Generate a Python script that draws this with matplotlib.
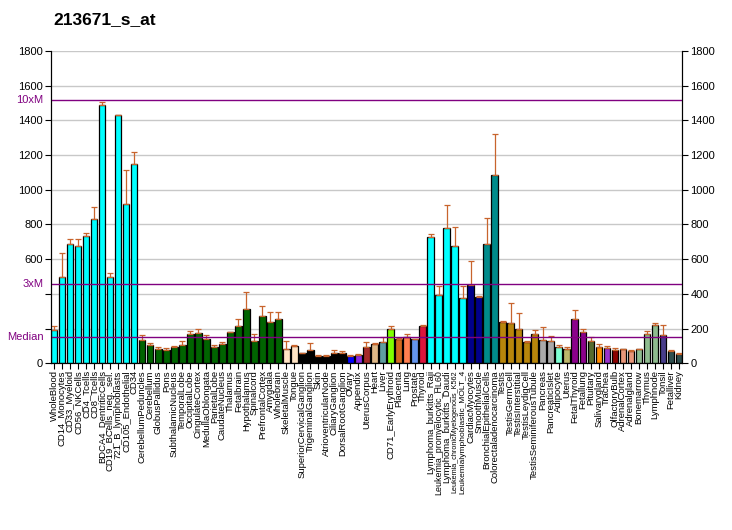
import matplotlib
matplotlib.use("Agg")
import matplotlib.pyplot as plt
import numpy as np

# ------------------------------------------
# DATA
# ------------------------------------------

tissues = [
    "WholeBlood", "CD14_Monocytes", "CD33_Myeloid", "CD56_NKCells", "CD4_Tcells",
    "CD8_Tcells", "BDCA4_DentriticCells", "CD19_BCells_neg._sel.", "721_B_lymphoblasts",
    "CD105_Endothelial", "CD34", "CerebellumPeduncles", "Cerebellum", "GlobusPallidus",
    "Pons", "SubthalamicNucleus", "TemporalLobe", "OccipitalLobe", "CingulateCortex",
    "MedullaOblongata", "ParietalLobe", "CaudateNucleus", "Thalamus", "Fetalbrain",
    "Hypothalamus", "Spinalcord", "PrefrontalCortex", "Amygdala", "Wholebrain",
    "SkeletalMuscle", "Tongue", "SuperiorCervicalGanglion", "TrigeminalGanglion", "Skin",
    "AtrioventricularNode", "CiliaryGanglion", "DorsalRootGanglion", "Ovary", "Appendix",
    "UterusCorpus", "Heart", "Liver", "CD71_EarlyErythroid", "Placenta", "Lung",
    "Prostate", "Thyroid", "Lymphoma_burkitts_Raji", "Leukemia_promyelocytic_HL60",
    "Lymphoma_burkitts_Daudi", "Leukemia_chronicMyelogenous_K562",
    "Leukemialymphoblastic_MOLT_4", "CardiacMyocytes", "SmoothMuscle",
    "BronchialEpithelialCells", "Colorectaladenocarcinoma", "Testis", "TestisGermCell",
    "TestisInterstitial", "TestisLeydigCell", "TestisSeminiferousTubule", "Pancreas",
    "PancreaticIslet", "Adipocyte", "Uterus", "FetalThyroid", "Fetallung", "Pituitary",
    "Salivarygland", "Trachea", "OlfactoryBulb", "AdrenalCortex", "Adrenalgland",
    "Bonemarrow", "Thymus", "Lymphnode", "Tonsil", "Fetalliver", "Kidney",
]

values = [
    192, 495, 685, 674, 731, 829, 1486, 495, 1429, 916, 1146,
    133, 104, 81, 75, 93, 104, 167, 173, 138, 93, 110, 179, 213, 311, 127, 271, 236, 253,
    81, 98, 58, 75, 42, 42, 58, 58, 40, 46, 93, 110, 121, 196, 138, 150, 138, 213,
    726, 392, 778, 674, 375, 449, 380, 685, 1083,
    236, 230, 200, 121, 167, 133, 127, 93, 81, 253, 179, 127, 93, 87, 75, 81, 69, 81,
    167, 219, 161, 69, 52,
]

err_top = [
    213, 634, 714, 714, 749, 899, 1504, 518, 1429, 1112, 1216,
    161, 115, 93, 87, 98, 127, 184, 196, 161, 104, 121, 179, 253, 409, 167, 328, 294, 294,
    127, 104, 58, 115, 45, 45, 75, 69, 45, 52, 121, 115, 150, 213, 144, 167, 138, 219,
    743, 444, 910, 784, 444, 588, 386, 835, 1319,
    243, 345, 288, 127, 190, 207, 156, 104, 93, 305, 200, 150, 110, 98, 87, 81, 75, 81,
    184, 230, 219, 75, 58,
]

colors = (
    ["#00FFFF"] * 11 + ["#006400"] * 18 + ["#FFE4C4"] * 2 + ["#000000"] * 6
    + ["#0000FF", "#8A2BE2", "#A52A2A", "#DEB887", "#5F9EA0", "#7FFF00",
       "#D2691E", "#FF7F50", "#6495ED", "#DC143C"]
    + ["#00FFFF"] * 5 + ["#00008B"] * 2 + ["#008B8B"] * 2 + ["#B8860B"] * 5
    + ["#A9A9A9"] * 2 + ["#7FFFD4", "#BDB76B"] + ["#8B008B"] * 2
    + ["#556B2F", "#FF8C00", "#9932CC", "#8B0000"] + ["#E9967A"] * 2
    + ["#8FBC8F"] * 3 + ["#483D8B"] + ["#2F4F4F"] * 2
)

median = 151.5
yticks = [0, 200, 400, 600, 800, 1000, 1200, 1400, 1600, 1800]

# ------------------------------------------
# PLOT
# ------------------------------------------

plt.rcParams['font.family'] = ['Liberation Sans', 'DejaVu Sans']

fig = plt.figure(figsize=(7.32, 5.30), dpi=100)
ax = fig.add_axes([51 / 732, 1 - 363.3 / 530, 631 / 732, 312.4 / 530])

x = np.arange(len(tissues))
w = 0.8
vals = np.array(values)
errs = np.array(err_top) - vals

ax.set_axisbelow(True)
ax.yaxis.grid(True, color="#C8C8C8", linewidth=1)
ax.bar(x, vals, width=w, color=colors, edgecolor="black", linewidth=0.9, zorder=2)
ax.errorbar(x, vals, yerr=[np.zeros_like(errs), errs], fmt="none",
            ecolor="#C8642D", elinewidth=0.9, capsize=2.2, capthick=0.9, zorder=3)

for m in [median, 3 * median, 10 * median]:
    ax.axhline(m, color="#800080", linewidth=1, zorder=4)

ax.set_xlim(-w / 2, len(tissues) - 1 + w / 2)
ax.set_ylim(0, 1800)

# left axis: numbers plus the median markers
left_ticks = [0, 600, 800, 1000, 1200, 1400, 1600, 1800]
ax.set_yticks(yticks)
ax.set_yticklabels([str(t) if t in left_ticks else "" for t in yticks], fontsize=8)
for lab, val in [("Median", median), ("3xM", 3 * median), ("10xM", 10 * median)]:
    ax.text(-0.012, val, lab, transform=ax.get_yaxis_transform(), ha="right",
            va="center", fontsize=8, color="#800080")

ax.set_xticks(x)
ax.set_xticklabels(tissues, rotation=90, fontsize=6.8)
ax.tick_params(axis="x", length=4, pad=1)
ax.tick_params(axis="y", length=4, pad=2)

ax.spines["top"].set_visible(False)

ax2 = ax.twinx()
ax2.set_ylim(0, 1800)
ax2.set_yticks(yticks)
ax2.set_yticklabels([str(t) for t in yticks], fontsize=8)
ax2.tick_params(axis="y", length=4, pad=2)
ax2.spines["top"].set_visible(False)

fig.text(53 / 732, 1 - 20 / 530, "213671_s_at", fontsize=12.5, fontweight="bold",
         ha="left", va="center")

# squeeze the longest labels a little so they end near the others
fig.canvas.draw()
renderer = fig.canvas.get_renderer()
max_len = 124
for lab in ax.get_xticklabels():
    h = lab.get_window_extent(renderer).height
    if h > max_len:
        lab.set_fontsize(lab.get_fontsize() * max_len / h)

plt.savefig("out.png", dpi=100)
